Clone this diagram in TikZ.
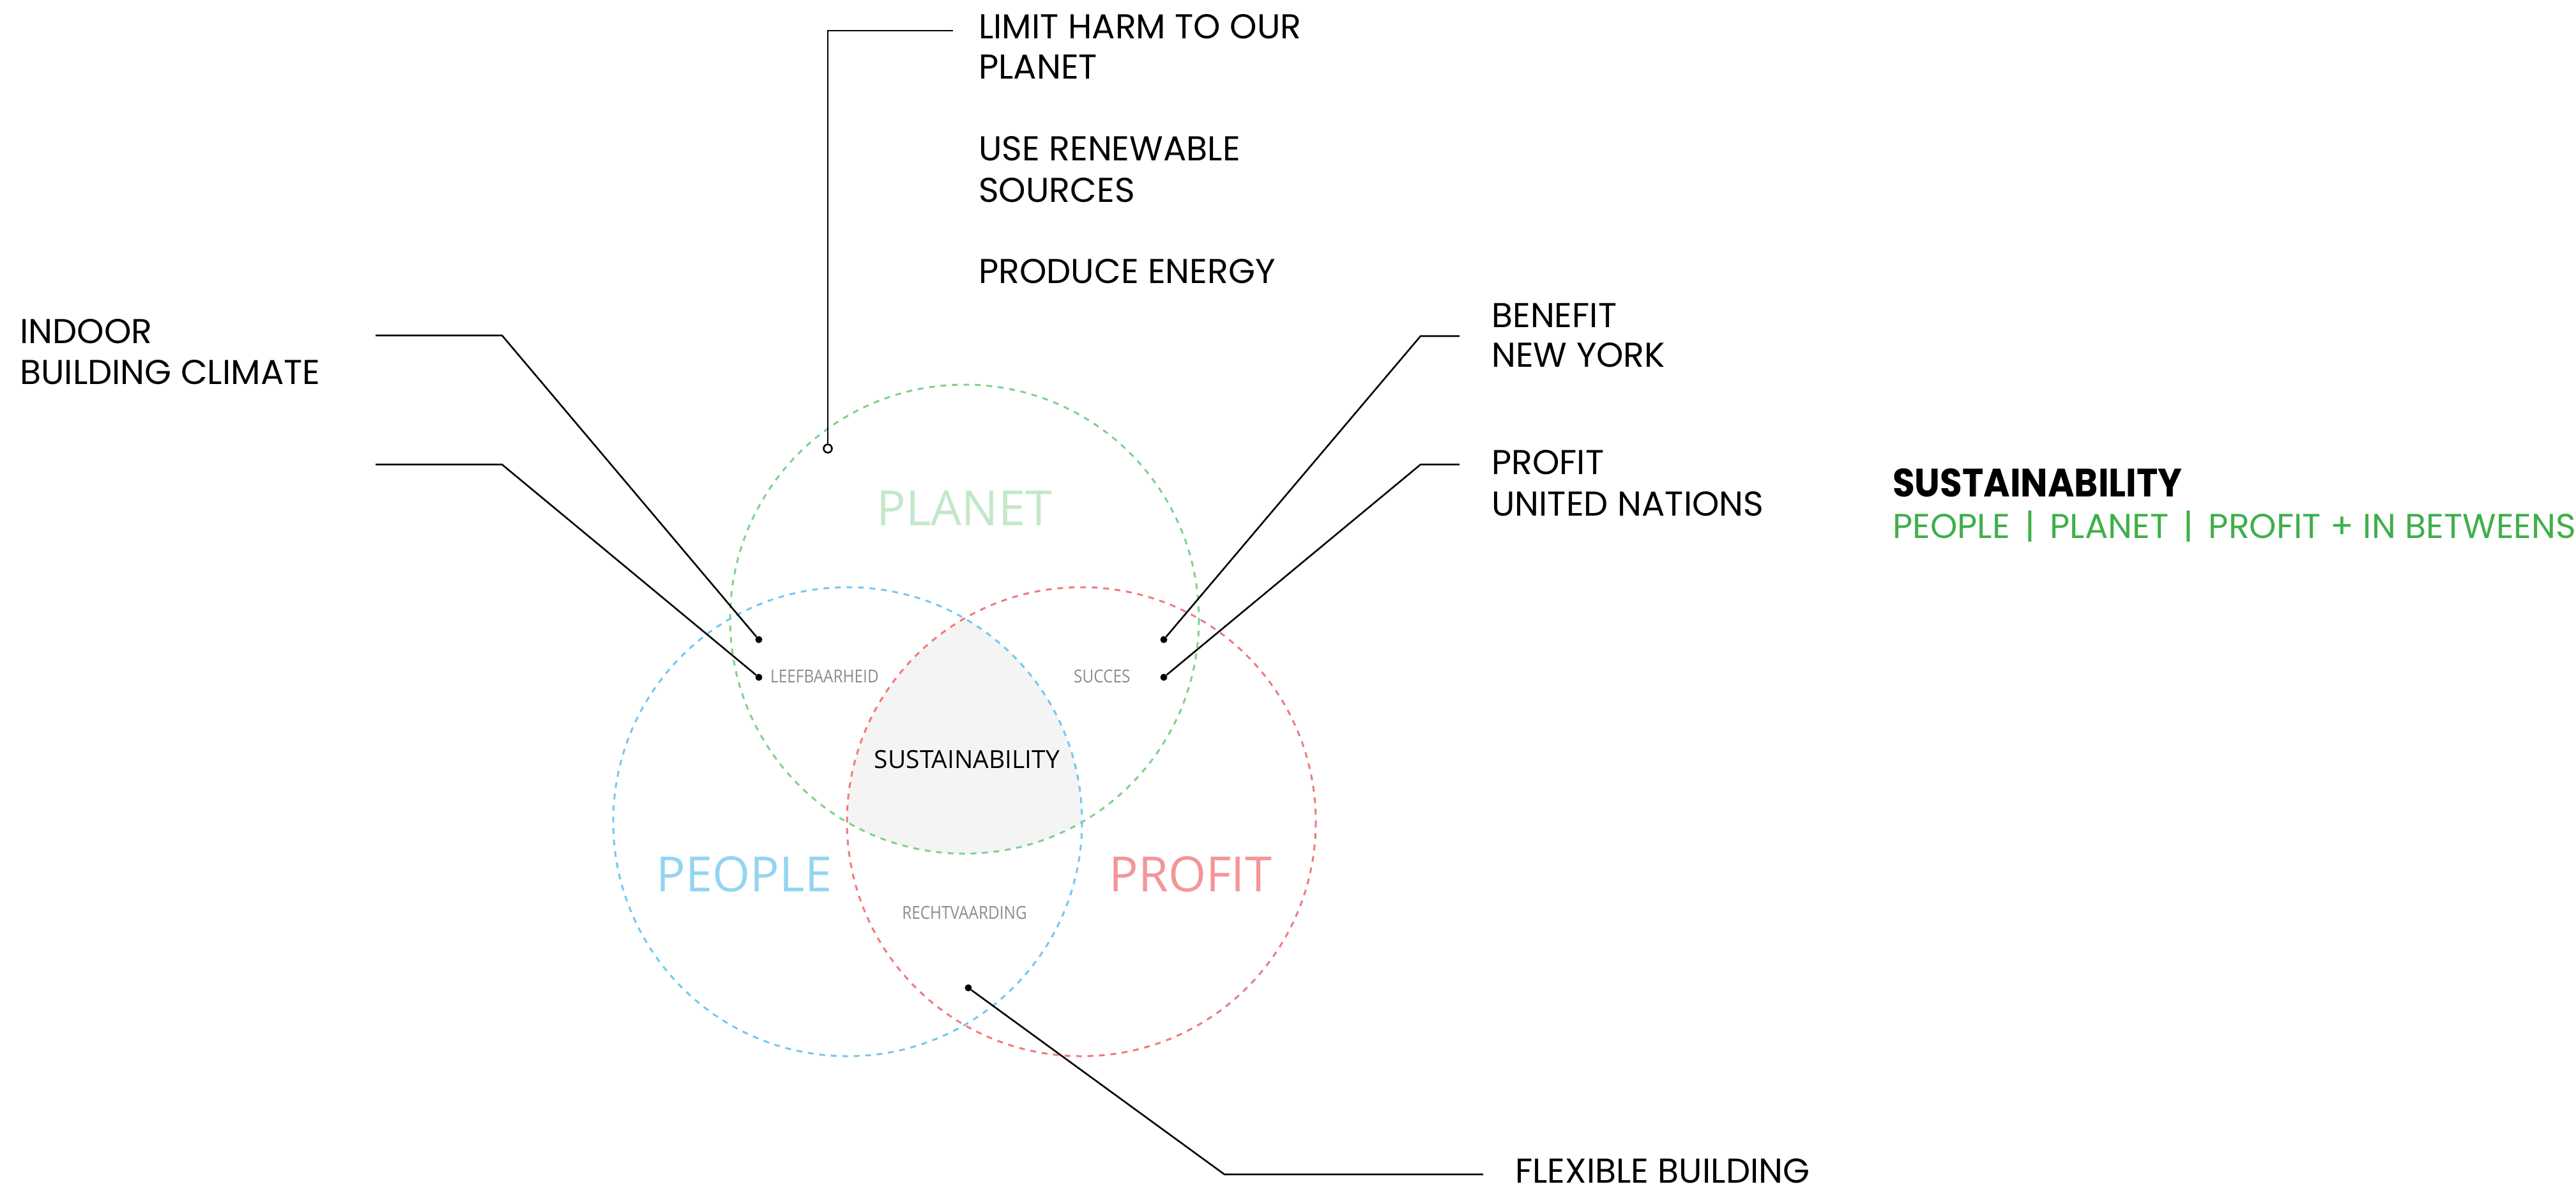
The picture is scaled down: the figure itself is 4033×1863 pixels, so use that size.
\documentclass[tikz,border=0pt]{standalone}
\usepackage{fontspec}
\newfontfamily\geo{Poppins}
\newfontfamily\geob{Poppins}[FakeStretch=0.91]
\newfontfamily\osans{Open Sans}
\newfontfamily\osmall{Open Sans}[FakeStretch=0.87]
\definecolor{plL}{HTML}{C3E8C9}
\definecolor{peL}{HTML}{93D5F0}
\definecolor{prL}{HTML}{F59598}
\definecolor{plD}{HTML}{7FD18C}
\definecolor{peD}{HTML}{72C9EF}
\definecolor{prD}{HTML}{F07A7C}
\definecolor{core}{HTML}{F4F4F4}
\definecolor{grayT}{HTML}{8C8C8C}
\definecolor{greenT}{HTML}{3FAF4A}
\tikzset{
  callout/.style={font=\geo\fontsize{54}{63}\selectfont, anchor=base west, inner sep=0pt, text=black},
  leader/.style={line width=2.6pt, black},
  blackdot/.style={circle, fill=black, inner sep=0pt, minimum size=11pt},
  opendot/.style={circle, draw=black, fill=white, line width=2.6pt, inner sep=0pt, minimum size=13pt},
  ring/.style={line width=3pt, dash pattern=on 9pt off 9pt},
  biglabel/.style={font=\osans\fontsize{76}{80}\selectfont, anchor=base, inner sep=0pt},
  smalllabel/.style={font=\osmall\fontsize{28}{30}\selectfont, text=grayT, anchor=base west, inner sep=0pt}
}
\begin{document}
\begin{tikzpicture}[x=1pt,y=-1pt]
\useasboundingbox (0,0) rectangle (4033,1863);
% centres
\coordinate (A) at (1510,969);
\coordinate (B) at (1327,1286);
\coordinate (C) at (1693,1286);
% core fill
\begin{scope}
  \clip (A) circle[radius=367];
  \clip (B) circle[radius=367];
  \fill[core] (C) circle[radius=367];
\end{scope}
% rings
\draw[ring, plD] (A) circle[radius=367];
\draw[ring, peD] (B) circle[radius=367];
\draw[ring, prD] (C) circle[radius=367];
% labels in circles
\node[biglabel, text=plL] (planet) at (1510,822) {PLANET};
\node[biglabel, text=peL] (people) at (1165,1395) {PEOPLE};
\node[biglabel, text=prL] (profit) at (1864,1395) {PROFIT};
\node[font=\osans\fontsize{39}{42}\selectfont, anchor=base, inner sep=0pt] (core) at (1514,1202) {SUSTAINABILITY};
\node[smalllabel] (leef) at (1206,1068) {LEEFBAARHEID};
\node[smalllabel] (succ) at (1681,1068) {SUCCES};
\node[smalllabel, anchor=base] (recht) at (1510,1438) {RECHTVAARDING};
% dots
\node[opendot] (dplanet) at (1296,702) {};
\node[blackdot] (d1) at (1188,1001) {};
\node[blackdot] (d2) at (1188,1060) {};
\node[blackdot] (d3) at (1822,1001) {};
\node[blackdot] (d4) at (1822,1060) {};
\node[blackdot] (d5) at (1516,1546) {};
% leader corners
\coordinate (k0a) at (1296,48); \coordinate (k0b) at (1492,48);
\coordinate (k1a) at (786,525); \coordinate (k1b) at (588,525);
\coordinate (k2a) at (786,727); \coordinate (k2b) at (588,727);
\coordinate (k3a) at (2224,526); \coordinate (k3b) at (2285,526);
\coordinate (k4a) at (2224,727); \coordinate (k4b) at (2285,727);
\coordinate (k5a) at (1917,1838); \coordinate (k5b) at (2322,1838);
\draw[leader] (dplanet) -- (k0a) -- (k0b);
\draw[leader] (d1) -- (k1a) -- (k1b);
\draw[leader] (d2) -- (k2a) -- (k2b);
\draw[leader] (d3) -- (k3a) -- (k3b);
\draw[leader] (d4) -- (k4a) -- (k4b);
\draw[leader] (d5) -- (k5a) -- (k5b);
% callout texts
\node[callout] (t1) at (1532,60) {LIMIT HARM TO OUR};
\node[callout] (t2) at (1532,123) {PLANET};
\node[callout] (t3) at (1532,251) {USE RENEWABLE};
\node[callout] (t4) at (1532,316) {SOURCES};
\node[callout] (t5) at (1532,443) {PRODUCE ENERGY};
\node[callout] (t6) at (31,537) {INDOOR};
\node[callout] (t7) at (31,601) {BUILDING CLIMATE};
\node[callout] (t8) at (2335,512) {BENEFIT};
\node[callout] (t9) at (2335,574) {NEW YORK};
\node[callout] (t10) at (2335,742) {PROFIT};
\node[callout] (t11) at (2335,807) {UNITED NATIONS};
\node[callout] (t12) at (2372,1851) {FLEXIBLE BUILDING};
% right summary
\node[font=\geob\bfseries\fontsize{62}{66}\selectfont, anchor=base west, inner sep=0pt] (st) at (2963,777) {SUSTAINABILITY};
\node[font=\geo\fontsize{54}{60}\selectfont, text=greenT, anchor=base west, inner sep=0pt] (sub) at (2963,842) {PEOPLE \,|\, PLANET \,|\, PROFIT + IN BETWEENS};
\end{tikzpicture}
\end{document}
